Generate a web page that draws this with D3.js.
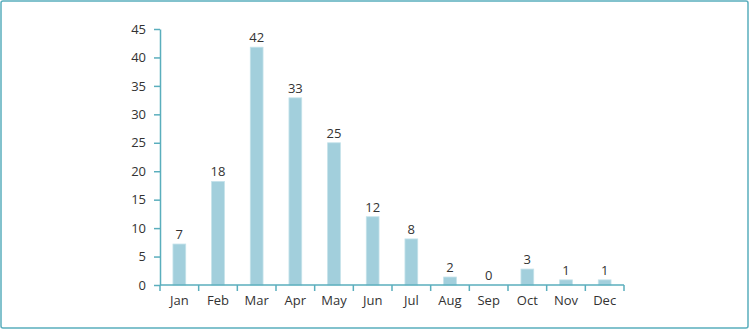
<!DOCTYPE html>
<html lang="en">
<head>
    <meta charset="UTF-8" />
    <title>Monthly counts</title>
    <script src="https://d3js.org/d3.v7.min.js"></script>
    <style>
        body { margin: 0; background: #fff; }
        .axis path, .axis line { stroke: #5aaebd; stroke-width: 1.5; fill: none; }
        .axis text { font-family: "Open Sans", sans-serif; font-size: 13px; fill: #333; }
        .value { font-family: "Open Sans", sans-serif; font-size: 13px; fill: #333; }
    </style>
</head>
<body>
<script>
    const months = ['Jan', 'Feb', 'Mar', 'Apr', 'May', 'Jun', 'Jul', 'Aug', 'Sep', 'Oct', 'Nov', 'Dec'];
    const values = [7.2, 18.2, 41.8, 32.9, 25, 12, 8.1, 1.4, 0, 2.8, 0.9, 0.9];
    const labels = ['7', '18', '42', '33', '25', '12', '8', '2', '0', '3', '1', '1'];
    const yTicks = [0, 5, 10, 15, 20, 25, 30, 35, 40, 45];

    const w = 749, h = 329;
    const plotLeft = 160, plotRight = 624, plotTop = 29, plotBottom = 285;

    const svg = d3.select('body').append('svg')
        .attr('width', w)
        .attr('height', h);

    // outer frame
    svg.append('rect')
        .attr('x', 1).attr('y', 1)
        .attr('width', w - 2).attr('height', h - 2)
        .attr('rx', 2)
        .attr('fill', 'none')
        .attr('stroke', '#5aaebd')
        .attr('stroke-width', 1.5);

    const x = d3.scaleBand().domain(months).range([plotLeft, plotRight]);
    const y = d3.scaleLinear().domain([0, 45]).range([plotBottom, plotTop]);

    const barW = x.bandwidth() * 0.33;

    svg.selectAll('rect.bar')
        .data(values)
        .enter().append('rect')
        .attr('class', 'bar')
        .attr('x', (d, i) => x(months[i]) + (x.bandwidth() - barW) / 2)
        .attr('y', d => y(d))
        .attr('width', barW)
        .attr('height', d => plotBottom - y(d))
        .attr('fill', '#a2cfdc')
        .attr('stroke', '#c4e2ea')
        .attr('stroke-width', 0.8);

    svg.selectAll('text.value')
        .data(values)
        .enter().append('text')
        .attr('class', 'value')
        .attr('x', (d, i) => x(months[i]) + x.bandwidth() / 2)
        .attr('y', d => y(d) - 5)
        .attr('text-anchor', 'middle')
        .text((d, i) => labels[i]);

    // y axis
    svg.append('g')
        .attr('class', 'axis')
        .attr('transform', `translate(${plotLeft},0)`)
        .call(d3.axisLeft(y).tickValues(yTicks).tickSize(6).tickPadding(8).tickSizeOuter(0));

    // x axis with ticks on band edges
    const xAxis = svg.append('g')
        .attr('class', 'axis')
        .attr('transform', `translate(0,${plotBottom})`);
    xAxis.append('line')
        .attr('x1', plotLeft).attr('x2', plotRight)
        .attr('y1', 0).attr('y2', 0);
    const edges = months.map(m => x(m)).concat([plotRight]);
    xAxis.selectAll('line.tick')
        .data(edges)
        .enter().append('line')
        .attr('class', 'tick')
        .attr('x1', d => d).attr('x2', d => d)
        .attr('y1', 0).attr('y2', 6);
    xAxis.selectAll('text')
        .data(months)
        .enter().append('text')
        .attr('x', d => x(d) + x.bandwidth() / 2)
        .attr('y', 20)
        .attr('text-anchor', 'middle')
        .text(d => d);
</script>
</body>
</html>
